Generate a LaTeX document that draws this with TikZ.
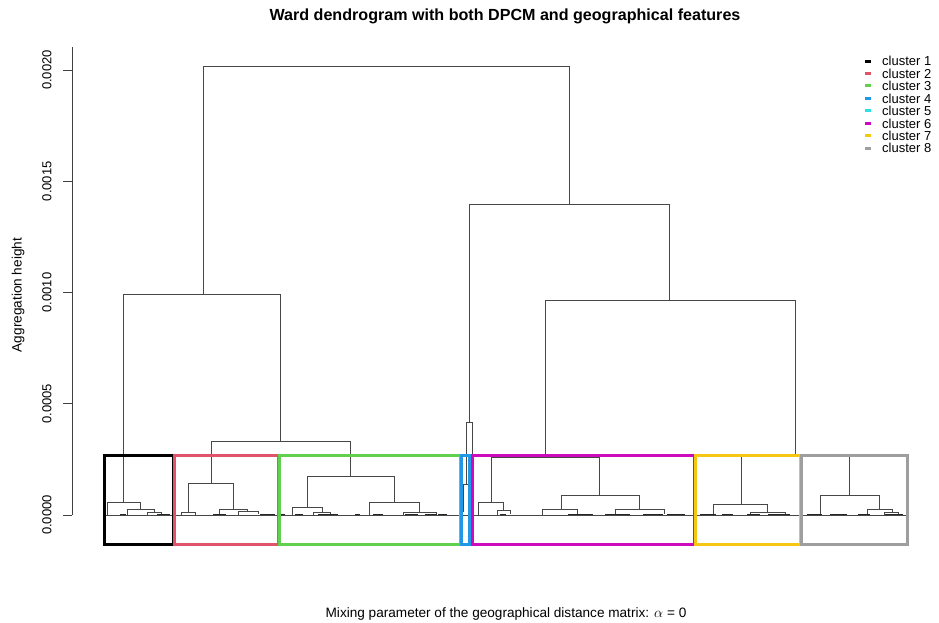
\documentclass[tikz,border=0pt]{standalone}
\usepackage{fontspec}
\setmainfont{Liberation Sans}
\definecolor{cA}{HTML}{000000}
\definecolor{cB}{HTML}{DF536B}
\definecolor{cC}{HTML}{61D04F}
\definecolor{cD}{HTML}{2297E6}
\definecolor{cE}{HTML}{28E2E5}
\definecolor{cF}{HTML}{CD0BBC}
\definecolor{cG}{HTML}{F5C710}
\definecolor{cH}{HTML}{9E9E9E}
\newcommand\mrg[5]{\draw[dl] (#1,#4) -- (#1,#3) -- (#2,#3) -- (#2,#5);}
\begin{document}
\begin{tikzpicture}[x=1pt,y=-1pt,
  dl/.style={draw=black!72, line width=0.6pt},
  leafbit/.style={draw=black!85, line width=1.3pt},
  clbox/.style={line width=3pt},
  lab/.style={font=\fontsize{13}{15}\selectfont, inner sep=0pt},
  alab/.style={font=\fontsize{13.6}{16}\selectfont, inner sep=0pt},
  ttl/.style={font=\bfseries\fontsize{16.1}{19}\selectfont, inner sep=0pt},
  axl/.style={draw=black!75, line width=0.6pt}]
\useasboundingbox (0,0) rectangle (939,622);
\fill[white] (0,0) rectangle (939,622);

% titles
\node[ttl] (title) at (505,16) {Ward dendrogram with both DPCM and geographical features};
\node[alab] (xlab) at (506,614) {Mixing parameter of the geographical distance matrix: $\alpha$ = 0};
\node[alab, rotate=90] (ylab) at (18,295) {Aggregation height};

% y axis
\draw[axl] (72,47) -- (72,515);
\foreach \yy/\tx [count=\i] in {70/0.0020,181.25/0.0015,292.5/0.0010,403.75/0.0005,515/0.0000}{
  \draw[axl] (63,\yy) -- (72,\yy);
  \node[lab, rotate=90] (tick\i) at (47,\yy) {\tx};
}

% main dendrogram
\mrg{203}{569}{66}{294}{204}
\mrg{123}{280}{294}{502}{441}
\mrg{211}{350}{441}{483}{476}
\mrg{469}{669}{204}{422}{300}
\mrg{545}{795}{300}{457}{454}
% cluster 1
\mrg{107}{140}{502}{515}{509}
\mrg{127}{154}{509}{515}{512}
\mrg{147}{161}{512}{515}{514}
% cluster 2
\mrg{188}{233}{483}{512}{509}
\mrg{181}{195}{512}{515}{515}
\mrg{219}{247}{509}{515}{511}
\mrg{238}{258}{511}{515}{514}
% cluster 3
\mrg{307}{394}{476}{507}{502}
\mrg{292}{322}{507}{515}{512}
\mrg{313}{330}{512}{515}{514}
\mrg{369}{419}{502}{515}{512}
\mrg{403}{436}{512}{515}{514}
% clusters 4/5
\mrg{466.5}{472}{422}{484}{455}
\mrg{463.5}{468.5}{484}{512}{512}
% cluster 6
\mrg{491}{599}{457}{502}{495}
\mrg{478}{503}{502}{515}{510}
\mrg{497}{510}{510}{515}{514}
\mrg{561}{639}{495}{509}{509}
\mrg{542}{577}{509}{515}{514}
\mrg{615}{664}{509}{515}{514}
% clusters 7/8
\mrg{741}{849}{454}{504}{495}
\mrg{713}{767}{504}{515}{512}
\mrg{750}{785}{512}{515}{514}
\mrg{820}{879}{495}{515}{509}
\mrg{867}{892}{509}{515}{512}
\mrg{884}{898}{512}{515}{514}

% baseline of leaves
\draw[dl] (105,515) -- (906,515);
\foreach \a/\b in {120/126,157/170,213/226,260/275,280/285,295/303,318/338,355/360,373/383,405/418,425/437,438/447,
  500/506,568/593,605/630,643/663,667/685,700/716,722/733,747/760,768/790,807/822,830/847,858/870,885/903}{
  \draw[leafbit] (\a,514.2) -- (\b,514.2);
}

% cluster boxes
\draw[clbox, cA] (104,455) rectangle (173.5,544);
\draw[clbox, cB] (174.5,455) rectangle (278.5,544);
\draw[clbox, cC] (279.5,455) rectangle (460,544);
\draw[cE, line width=1pt] (470.8,455) -- (470.8,544);
\draw[clbox, cD] (461,455) rectangle (469.3,544);
\draw[clbox, cF] (472.3,455) rectangle (694,544);
\draw[clbox, cG] (695,455) rectangle (800.5,544);
\draw[clbox, cH] (801.5,455) rectangle (907,544);

% legend
\foreach \c [count=\i] in {cA,cB,cC,cD,cE,cF,cG,cH}{
  \pgfmathsetmacro\ly{61+12.47*(\i-1)}
  \draw[\c, line width=3pt] (865,\ly) -- (871,\ly);
  \node[lab, anchor=west] (leg\i) at (882,\ly) {cluster \i};
}
\end{tikzpicture}
\end{document}
